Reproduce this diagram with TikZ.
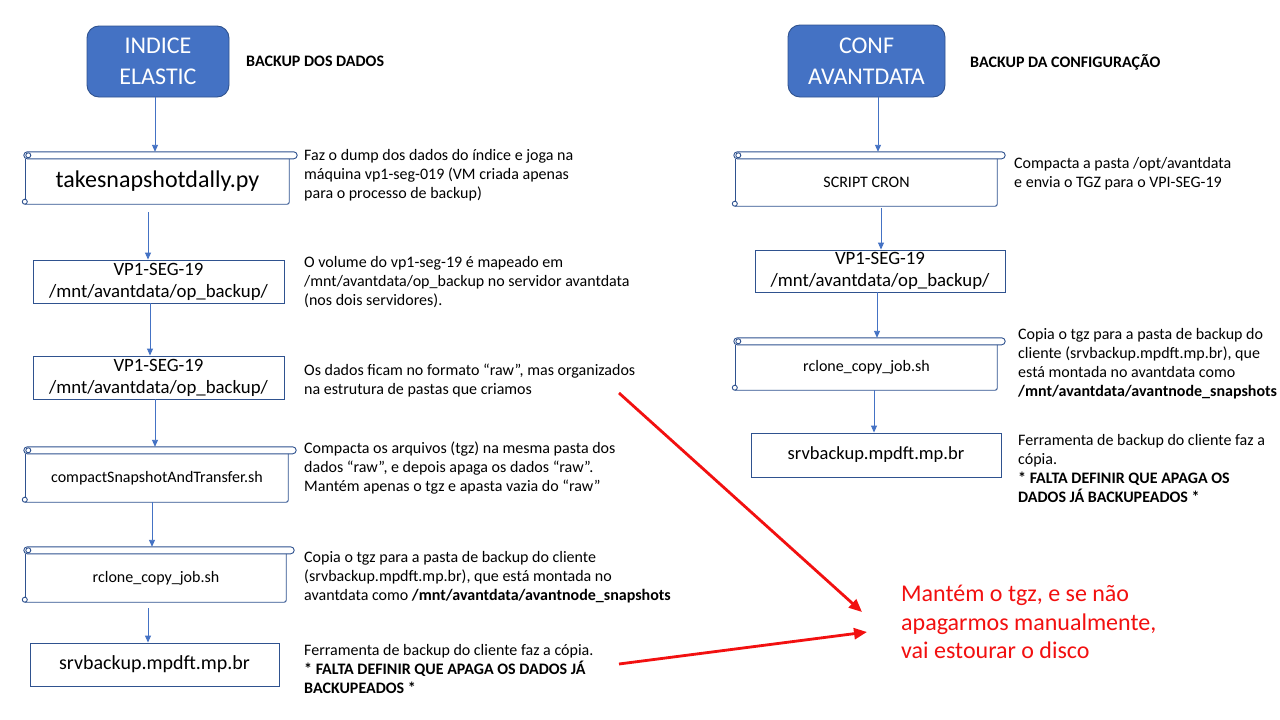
\documentclass[tikz,border=0pt]{standalone}
\usepackage{fontspec}
\setmainfont{Carlito}
\usetikzlibrary{arrows.meta,calc}
\definecolor{bfill}{HTML}{4472C4}
\definecolor{bline}{HTML}{2F528F}
\definecolor{warnred}{HTML}{F21010}
\newcommand\drawscroll[1]{%
  \draw[boxline,rounded corners=3.5] ([xshift=-2,yshift=7]#1.north west) rectangle ([xshift=8]#1.north east);
  \draw[boxline] (#1.north west) -- ([yshift=4]#1.south west);
  \draw[boxline,rounded corners=2] ([xshift=-1]#1.south west) -- (#1.south east) -- (#1.north east);
  \draw[boxline] ([xshift=2.5,yshift=3.5]#1.north west) circle (2.5);
  \draw[boxline] ([xshift=-1,yshift=2.5]#1.south west) circle (2.5);
}
\tikzset{
  boxline/.style={draw=bline, line width=0.9pt},
  rectbox/.style={draw=bline, line width=0.9pt, inner sep=0pt, align=center},
  scrollbox/.style={draw=none, inner sep=0pt, align=center},
  topbox/.style={draw=bline, line width=0.9pt, fill=bfill, rounded corners=12pt, text=white, align=center, inner sep=0pt, font=\fontsize{24}{31}\selectfont},
  desc/.style={anchor=north west, align=left, inner sep=0pt, font=\fontsize{16}{19}\selectfont},
  hdr/.style={anchor=west, inner sep=0pt, font=\bfseries\fontsize{16}{19}\selectfont},
  barrow/.style={draw=bfill, line width=0.9pt, -{Triangle[length=7pt,width=6pt]}},
  rarrow/.style={draw=warnred, line width=2.8pt, -{Triangle[length=13pt,width=11pt]}},
  warntext/.style={anchor=north west, align=left, inner sep=0pt, text=warnred, font=\fontsize{24}{28.5}\selectfont}
}
\begin{document}
\begin{tikzpicture}[x=1pt,y=-1pt]
\useasboundingbox (0,0) rectangle (1280,720);
\fill[white] (0,0) rectangle (1280,720);

% ---------- left column ----------
\node[topbox, minimum width=142, minimum height=71] (t1) at (158,61.5) {INDICE\\ELASTIC};
\node[hdr] (h1) at (246,61) {BACKUP DOS DADOS};

\node[scrollbox, minimum width=263, minimum height=45, font=\fontsize{24}{28}\selectfont] (s1) at (157.5,181.5) {takesnapshotdally.py};
\drawscroll{s1}
\node[rectbox, minimum width=251, minimum height=43, font=\fontsize{18.8}{22}\selectfont] (b2) at (158.5,281.5) {VP1-SEG-19\\/mnt/avantdata/op\_backup/};
\node[rectbox, minimum width=251, minimum height=43, font=\fontsize{18.8}{22}\selectfont] (b3) at (158.5,377.5) {VP1-SEG-19\\/mnt/avantdata/op\_backup/};
\node[scrollbox, minimum width=262, minimum height=48, font=\fontsize{16}{19}\selectfont] (s4) at (157,478) {compactSnapshotAndTransfer.sh};
\drawscroll{s4}
\node[scrollbox, minimum width=260, minimum height=48, font=\fontsize{16}{19}\selectfont] (s5) at (156,578) {rclone\_copy\_job.sh};
\drawscroll{s5}
\node[rectbox, minimum width=249, minimum height=43, font=\fontsize{20}{24}\selectfont] (b6) at (154.5,664.5) {srvbackup.mpdft.mp.br};

\draw[barrow] (t1.south -| 155,0) -- ([yshift=7]s1.north -| 155,0);
\draw[barrow, shorten <=8pt] (s1.south -| 148,0) -- (b2.north -| 148,0);
\draw[barrow] (b2.south -| 150,0) -- (b3.north -| 150,0);
\draw[barrow] (b3.south -| 155,0) -- ([yshift=7]s4.north -| 155,0);
\draw[barrow] (s4.south -| 152,0) -- ([yshift=7]s5.north -| 152,0);
\draw[barrow, shorten <=6pt] (s5.south -| 148,0) -- (b6.north -| 148,0);

\node[desc] (d1) at (304,149.5) {Faz o dump dos dados do índice e joga na\\máquina vp1-seg-019 (VM criada apenas\\para o processo de backup)};
\node[desc] (d2) at (304,256.5) {O volume do vp1-seg-19 é mapeado em\\/mnt/avantdata/op\_backup no servidor avantdata\\(nos dois servidores).};
\node[desc] (d3) at (304,363.5) {Os dados ficam no formato “raw”, mas organizados\\na estrutura de pastas que criamos};
\node[desc] (d4) at (304,441.5) {Compacta os arquivos (tgz) na mesma pasta dos\\dados “raw”, e depois apaga os dados “raw”.\\Mantém apenas o tgz e apasta vazia do “raw”};
\node[desc] (d5) at (304,551.5) {Copia o tgz para a pasta de backup do cliente\\(srvbackup.mpdft.mp.br), que está montada no\\avantdata como \textbf{/mnt/avantdata/avantnode\_snapshots}};
\node[desc] (d6) at (304,644.5) {Ferramenta de backup do cliente faz a cópia.\\\textbf{* FALTA DEFINIR QUE APAGA OS DADOS JÁ}\\\textbf{BACKUPEADOS *}};

% ---------- right column ----------
\node[topbox, minimum width=157, minimum height=72] (t2) at (866.5,61) {CONF\\AVANTDATA};
\node[hdr] (h2) at (970,62) {BACKUP DA CONFIGURAÇÃO};

\node[scrollbox, minimum width=261, minimum height=47, font=\fontsize{16}{19}\selectfont] (r1) at (866.5,182.5) {SCRIPT CRON};
\drawscroll{r1}
\node[rectbox, minimum width=250, minimum height=42, font=\fontsize{18.8}{22}\selectfont] (r2) at (880,271) {VP1-SEG-19\\/mnt/avantdata/op\_backup/};
\node[scrollbox, minimum width=261, minimum height=45, font=\fontsize{16}{19}\selectfont] (r3) at (866.5,367.5) {rclone\_copy\_job.sh};
\drawscroll{r3}
\node[rectbox, minimum width=250, minimum height=44, font=\fontsize{18.5}{22}\selectfont] (r4) at (876,455) {srvbackup.mpdft.mp.br};

\draw[barrow] (t2.south -| 878,0) -- ([yshift=7]r1.north -| 878,0);
\draw[barrow, shorten <=2pt] (r1.south -| 881,0) -- (r2.north -| 881,0);
\draw[barrow] (r2.south -| 877,0) -- ([yshift=7]r3.north -| 877,0);
\draw[barrow] (r3.south -| 874,0) -- (r4.north -| 874,0);

\node[desc] (e1) at (1014,157.5) {Compacta a pasta /opt/avantdata\\e envia o TGZ para o VPI-SEG-19};
\node[desc] (e2) at (1018,328.5) {Copia o tgz para a pasta de backup do\\cliente (srvbackup.mpdft.mp.br), que\\está montada no avantdata como\\\textbf{/mnt/avantdata/avantnode\_snapshots}};
\node[desc] (e3) at (1018,434.5) {Ferramenta de backup do cliente faz a\\cópia.\\\textbf{* FALTA DEFINIR QUE APAGA OS}\\\textbf{DADOS JÁ BACKUPEADOS *}};

% ---------- warning ----------
\node[warntext] (warn) at (901,585) {Mantém o tgz, e se não\\apagarmos manualmente,\\vai estourar o disco};
\coordinate (w1) at (619,393);
\coordinate (w2) at (619,664);
\draw[rarrow] (w1) -- ([xshift=-39,yshift=-27]warn.north west);
\draw[rarrow] (w2) -- ([xshift=-34,yshift=-47]warn.north west);
\end{tikzpicture}
\end{document}
